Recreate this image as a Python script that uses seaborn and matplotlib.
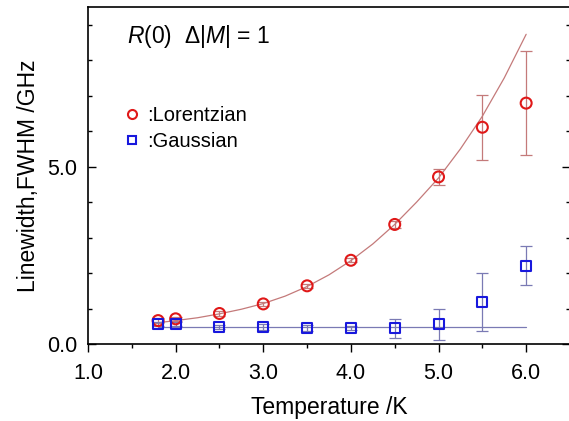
import numpy as np
import pandas as pd
import seaborn as sns
import matplotlib.pyplot as plt
from matplotlib.lines import Line2D
from matplotlib.ticker import MultipleLocator

# Data
temp = [1.8, 2.0, 2.5, 3.0, 3.5, 4.0, 4.5, 5.0, 5.5, 6.0]
lorentz = [0.66, 0.71, 0.86, 1.13, 1.64, 2.36, 3.37, 4.71, 6.11, 6.79]
lorentz_err = [0.06, 0.06, 0.06, 0.06, 0.06, 0.06, 0.10, 0.22, 0.92, 1.46]
gauss = [0.56, 0.56, 0.48, 0.48, 0.45, 0.45, 0.44, 0.56, 1.18, 2.21]
gauss_err = [0.06, 0.06, 0.06, 0.08, 0.08, 0.06, 0.26, 0.44, 0.82, 0.54]

# fitted curves
lfit_x = [1.8, 2.0, 2.25, 2.5, 2.75, 3.0, 3.25, 3.5, 3.75, 4.0, 4.25, 4.5, 4.75, 5.0, 5.25, 5.5, 5.75, 6.0]
lfit_y = [0.60, 0.66, 0.74, 0.85, 0.98, 1.14, 1.35, 1.62, 1.95, 2.35, 2.82, 3.37, 4.0, 4.68, 5.5, 6.42, 7.5, 8.73]
gfit_x = [1.8, 6.0]
gfit_y = [0.47, 0.47]

red = '#e01818'
red_line = '#c47a7a'
blue = '#1818dd'
blue_line = '#7a7ab4'

sns.set_style('ticks')
plt.rcParams['font.family'] = ['Liberation Sans', 'DejaVu Sans']
plt.rcParams['mathtext.fontset'] = 'custom'
plt.rcParams['mathtext.it'] = 'Liberation Sans:italic'
plt.rcParams['mathtext.rm'] = 'Liberation Sans'
# plain black text like the original
for k in ['text.color', 'axes.labelcolor', 'xtick.color', 'ytick.color']:
    plt.rcParams[k] = 'black'

fig = plt.figure(figsize=(5.69, 4.21), dpi=100)
ax = fig.add_axes([0.1547, 0.1829, 0.847, 0.8005])

df_l = pd.DataFrame({'T': temp, 'w': lorentz})
df_g = pd.DataFrame({'T': temp, 'w': gauss})

# fit lines
sns.lineplot(x=lfit_x, y=lfit_y, ax=ax, color=red_line, lw=0.9, zorder=2)
sns.lineplot(x=gfit_x, y=gfit_y, ax=ax, color=blue_line, lw=0.9, zorder=2)

# error bars
ax.errorbar(temp, lorentz, yerr=lorentz_err, fmt='none', ecolor=red_line,
            elinewidth=0.9, capsize=4.5, capthick=0.9, zorder=3)
ax.errorbar(temp, gauss, yerr=gauss_err, fmt='none', ecolor=blue_line,
            elinewidth=0.9, capsize=4.5, capthick=0.9, zorder=3)

# points
sns.scatterplot(data=df_l, x='T', y='w', ax=ax, marker='o', s=62,
                facecolor='none', edgecolor=red, linewidth=1.5, zorder=4)
sns.scatterplot(data=df_g, x='T', y='w', ax=ax, marker='s', s=52,
                facecolor='none', edgecolor=blue, linewidth=1.5, zorder=4)

ax.set_xlim(1.0, 6.5)
ax.set_ylim(0, 9.5)
ax.xaxis.set_major_locator(MultipleLocator(1.0))
ax.xaxis.set_minor_locator(MultipleLocator(0.5))
ax.yaxis.set_major_locator(MultipleLocator(5.0))
ax.yaxis.set_minor_locator(MultipleLocator(1.0))
ax.xaxis.set_major_formatter(lambda v, p: f'{v:.1f}')
ax.yaxis.set_major_formatter(lambda v, p: f'{v:.1f}')

ax.tick_params(axis='x', which='major', direction='out', length=6, width=1, labelsize=15.5, pad=8)
ax.tick_params(axis='x', which='minor', direction='out', length=3, width=1)
ax.tick_params(axis='y', which='major', direction='in', length=6, width=1, labelsize=15.5, pad=7.5,
               right=True)
ax.tick_params(axis='y', which='minor', direction='in', length=3, width=1, right=True)
for s in ax.spines.values():
    s.set_linewidth(1.2)
    s.set_color('black')

ax.set_xlabel('Temperature /K', fontsize=16.5, labelpad=8)
ax.set_ylabel('Linewidth,FWHM /GHz', fontsize=16.5, labelpad=5)

ax.text(0.081, 0.912, r'$R$(0)  Δ|$M$| = 1', transform=ax.transAxes,
        fontsize=16.5, va='center', ha='left')

handles = [
    Line2D([], [], marker='o', ls='none', mfc='none', mec=red, mew=1.5, ms=6.5),
    Line2D([], [], marker='s', ls='none', mfc='none', mec=blue, mew=1.5, ms=5.5),
]
ax.legend(handles, [':Lorentzian', ':Gaussian'], loc='upper left',
          bbox_to_anchor=(0.075, 0.707), frameon=False, fontsize=14.5,
          handlelength=0.8, handletextpad=0.35, borderpad=0, borderaxespad=0,
          labelspacing=0.38)

fig.savefig('out.png', dpi=100)
